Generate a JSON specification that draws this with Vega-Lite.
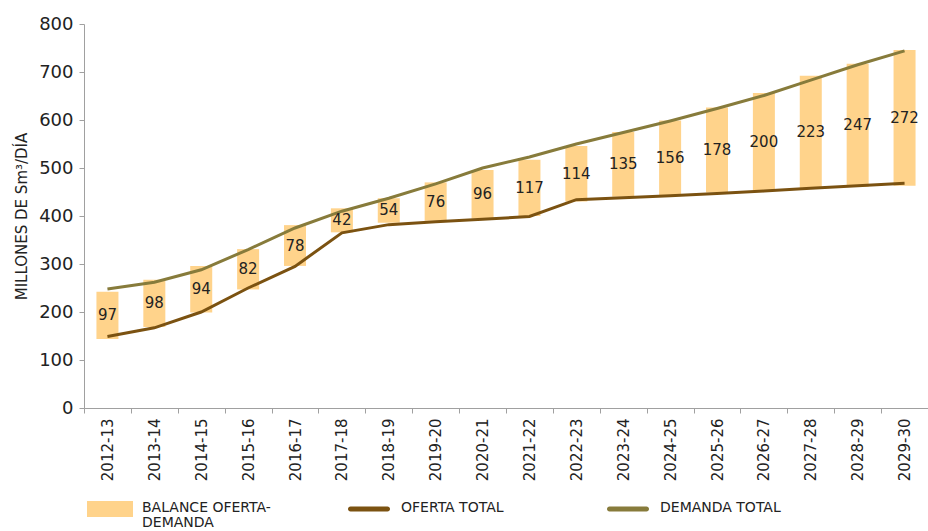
{
  "$schema": "https://vega.github.io/schema/vega-lite/v6.json",
  "width": 844,
  "height": 384,
  "autosize": "none",
  "padding": {"left": 84, "top": 24, "right": 0, "bottom": 123},
  "background": "white",
  "config": {"view": {"stroke": null}, "font": "DejaVu Sans"},
  "data": {"values": [
    {"periodo": "2012-13", "oferta": 149, "demanda": 248, "balance": 97, "bar_lo": 144, "bar_hi": 242},
    {"periodo": "2013-14", "oferta": 167, "demanda": 262, "balance": 98, "bar_lo": 169, "bar_hi": 267},
    {"periodo": "2014-15", "oferta": 200, "demanda": 288, "balance": 94, "bar_lo": 199, "bar_hi": 296},
    {"periodo": "2015-16", "oferta": 250, "demanda": 330, "balance": 82, "bar_lo": 247, "bar_hi": 331},
    {"periodo": "2016-17", "oferta": 295, "demanda": 375, "balance": 78, "bar_lo": 296, "bar_hi": 381},
    {"periodo": "2017-18", "oferta": 365, "demanda": 410, "balance": 42, "bar_lo": 366, "bar_hi": 416},
    {"periodo": "2018-19", "oferta": 382, "demanda": 437, "balance": 54, "bar_lo": 386, "bar_hi": 437},
    {"periodo": "2019-20", "oferta": 388, "demanda": 467, "balance": 76, "bar_lo": 390, "bar_hi": 470},
    {"periodo": "2020-21", "oferta": 393, "demanda": 500, "balance": 96, "bar_lo": 395, "bar_hi": 496},
    {"periodo": "2021-22", "oferta": 399, "demanda": 523, "balance": 117, "bar_lo": 400, "bar_hi": 517},
    {"periodo": "2022-23", "oferta": 434, "demanda": 550, "balance": 114, "bar_lo": 430, "bar_hi": 546},
    {"periodo": "2023-24", "oferta": 438, "demanda": 574, "balance": 135, "bar_lo": 440, "bar_hi": 575},
    {"periodo": "2024-25", "oferta": 442, "demanda": 598, "balance": 156, "bar_lo": 444, "bar_hi": 599},
    {"periodo": "2025-26", "oferta": 447, "demanda": 624, "balance": 178, "bar_lo": 449, "bar_hi": 626},
    {"periodo": "2026-27", "oferta": 452, "demanda": 651, "balance": 200, "bar_lo": 453, "bar_hi": 656},
    {"periodo": "2027-28", "oferta": 458, "demanda": 683, "balance": 223, "bar_lo": 458, "bar_hi": 692},
    {"periodo": "2028-29", "oferta": 463, "demanda": 715, "balance": 247, "bar_lo": 461, "bar_hi": 717},
    {"periodo": "2029-30", "oferta": 468, "demanda": 744, "balance": 272, "bar_lo": 463, "bar_hi": 746}
  ]},
  "encoding": {
    "x": {
      "field": "periodo", "type": "ordinal", "sort": null,
      "scale": {"paddingInner": 0, "paddingOuter": 0},
      "axis": {
        "title": null, "labelAngle": -90, "labelFontSize": 15, "labelColor": "#222222",
        "labelPadding": 5, "tickBand": "extent", "domainColor": "#a0a0a0", "tickColor": "#a0a0a0",
        "tickSize": 5, "grid": false
      }
    }
  },
  "layer": [
    {
      "mark": {"type": "bar", "width": 22, "color": "#FFD38B"},
      "encoding": {
        "y": {
          "field": "bar_lo", "type": "quantitative",
          "scale": {"domain": [0, 800], "nice": false},
          "axis": {
            "title": "MILLONES DE Sm³/DÍA", "titleFontSize": 15, "titleFontWeight": "normal",
            "titleColor": "#222222", "titlePadding": 9,
            "values": [0, 100, 200, 300, 400, 500, 600, 700, 800],
            "labelFontSize": 18, "labelColor": "#222222", "labelPadding": 6,
            "domainColor": "#a0a0a0", "tickColor": "#a0a0a0", "tickSize": 5, "grid": false
          }
        },
        "y2": {"field": "bar_hi"},
        "color": {
          "datum": "BALANCE OFERTA-DEMANDA", "type": "nominal",
          "scale": {
            "domain": ["BALANCE OFERTA-DEMANDA", "OFERTA TOTAL", "DEMANDA TOTAL"],
            "range": ["#FFD38B", "#7B5211", "#877B3B"]
          },
          "legend": {
            "orient": "none", "legendX": 3, "legendY": 462, "direction": "horizontal",
            "title": null, "labelFontSize": 14, "labelColor": "#222222", "labelLimit": 400,
            "symbolSize": 2116, "symbolStrokeWidth": 0, "gridAlign": "all", "columnPadding": 75, "labelOffset": 9,
            "symbolType": "M-1,-0.348H1V0.348H-1Z",
            "labelExpr": "datum.label == 'BALANCE OFERTA-DEMANDA' ? ['BALANCE OFERTA-', 'DEMANDA'] : [datum.label, ' ']",
            "encode": {
              "symbols": {"update": {
                "shape": {"signal": "datum.value == 'BALANCE OFERTA-DEMANDA' ? 'M-1,-0.348H1V0.348H-1Z' : 'M-0.804,-0.109H0.804A0.109,0.109 0 0 1 0.804,0.109H-0.804A0.109,0.109 0 0 1 -0.804,-0.109Z'"},
                "fill": {"signal": "datum.value == 'BALANCE OFERTA-DEMANDA' ? '#FFD38B' : (datum.value == 'OFERTA TOTAL' ? '#7B5211' : '#877B3B')"},
                "stroke": {"value": "transparent"},
                "strokeWidth": {"value": 0},
                "opacity": {"value": 1}
              }},
              "labels": {"update": {"baseline": {"value": "top"}, "dy": {"value": -8}, "lineHeight": {"value": 15}}}
            }
          }
        }
      }
    },
    {
      "mark": {"type": "line", "strokeWidth": 3},
      "encoding": {
        "y": {"field": "oferta", "type": "quantitative"},
        "color": {"datum": "OFERTA TOTAL", "type": "nominal"}
      }
    },
    {
      "mark": {"type": "line", "strokeWidth": 3},
      "encoding": {
        "y": {"field": "demanda", "type": "quantitative"},
        "color": {"datum": "DEMANDA TOTAL", "type": "nominal"}
      }
    },
    {
      "transform": [{"fold": ["bar_lo", "bar_hi"], "as": ["lim", "val"]}],
      "mark": {"type": "text", "fontSize": 15, "color": "#222222", "baseline": "middle"},
      "encoding": {
        "y": {"field": "val", "aggregate": "mean", "type": "quantitative"},
        "text": {"field": "balance", "aggregate": "max", "type": "quantitative"}
      }
    }
  ]
}
